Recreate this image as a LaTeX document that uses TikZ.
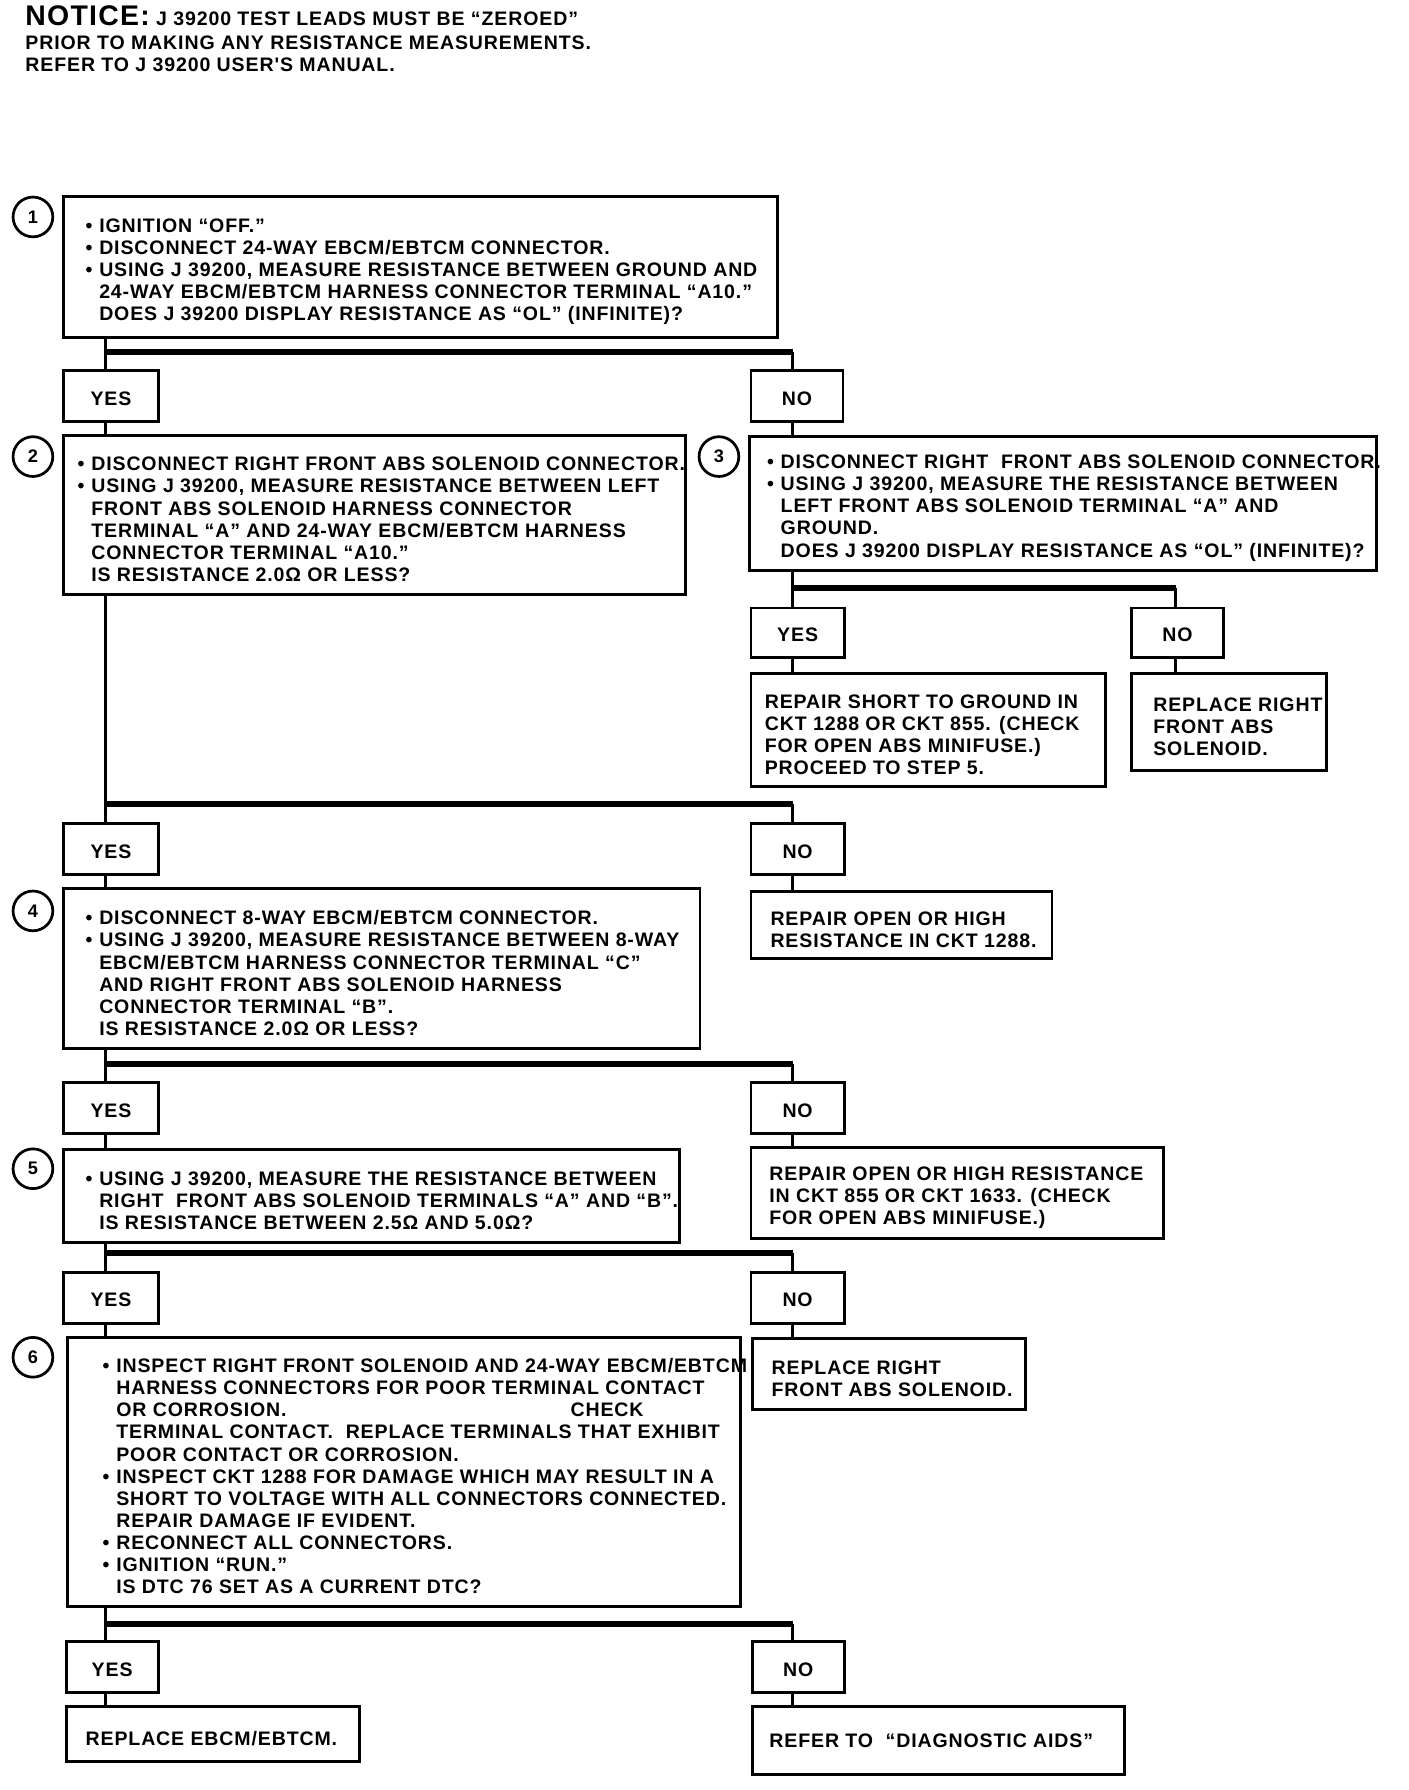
\documentclass[tikz,border=0pt]{standalone}
\usepackage{fontspec}
\newfontfamily\bxf{Liberation Sans}[LetterSpace=4.5]
\newcommand\fs{\bxf\bfseries\fontsize{8.6}{9.75}\selectfont}
\newcommand\bl{\makebox[6pt][l]{•}}
\newcommand\ind{\hspace*{6pt}}
\newcommand\yn[1]{\raisebox{-1pt}[\height][\depth]{#1}}
\begin{document}
\begin{tikzpicture}[x=0.5pt,y=-0.5pt,
  bx/.style n args={2}{draw, line width=1.25pt, anchor=north west, inner sep=0pt,
     minimum width=#1*0.5pt, minimum height=#2*0.5pt, font=\fs},
  txt/.style={anchor=west, align=left, inner sep=0pt, font=\fs, yshift=-2pt},
  circ/.style={draw, circle, line width=1.2pt, minimum size=17.5pt, inner sep=0pt, font=\bxf\bfseries\fontsize{8}{9}\selectfont},
  vl/.style={line width=1.5pt},
  hl/.style={line width=2.7pt}]
\fill[white] (0,0) rectangle (1240,1576);
\useasboundingbox (0,0) rectangle (1240,1576);

% notice
\node[anchor=north west, align=left, inner sep=0pt, font=\fs] (notice) at (22,5)
 {{\fontsize{12.5}{12}\selectfont NOTICE:} J 39200 TEST LEADS MUST BE “ZEROED”\\[0.5pt]
  PRIOR TO MAKING ANY RESISTANCE MEASUREMENTS.\\
  REFER TO J 39200 USER'S MANUAL.};

% column coordinates
\coordinate (colL) at (93,0);
\coordinate (colR) at (698,0);
\coordinate (colR2) at (1035,0);
\coordinate (j1) at (0,310);
\coordinate (j3) at (0,518);
\coordinate (j2) at (0,708);
\coordinate (j4) at (0,937);
\coordinate (j5) at (0,1103);
\coordinate (j6) at (0,1430);

% step circles
\node[circ] (c1) at (29,191) {1};
\node[circ] (c2) at (29,402) {2};
\node[circ] (c3) at (633,402) {3};
\node[circ] (c4) at (29,802) {4};
\node[circ] (c5) at (29,1029) {5};
\node[circ] (c6) at (29,1195) {6};

% step 1
\node[bx={628}{124}] (b1) at (55,172) {};
\node[txt] (t1) at ([xshift=10pt]b1.west)
 {\bl IGNITION “OFF.”\\
  \bl DISCONNECT 24-WAY EBCM/EBTCM CONNECTOR.\\
  \bl USING J 39200, MEASURE RESISTANCE BETWEEN GROUND AND\\
  \ind 24-WAY EBCM/EBTCM HARNESS CONNECTOR TERMINAL “A10.”\\
  \ind DOES J 39200 DISPLAY RESISTANCE AS “OL” (INFINITE)?};
\node[bx={83}{45}] (y1) at (55,325) {\yn{YES}};
\node[bx={81}{45}] (n1) at (660,325) {\yn{NO}};

% step 2
\node[bx={547}{140}] (b2) at (55,382) {};
\node[txt] (t2) at ([xshift=6.5pt]b2.west)
 {\bl DISCONNECT RIGHT FRONT ABS SOLENOID CONNECTOR.\\
  \bl USING J 39200, MEASURE RESISTANCE BETWEEN LEFT\\
  \ind FRONT ABS SOLENOID HARNESS CONNECTOR\\
  \ind TERMINAL “A” AND 24-WAY EBCM/EBTCM HARNESS\\
  \ind CONNECTOR TERMINAL “A10.”\\
  \ind IS RESISTANCE 2.0Ω OR LESS?};

% step 3
\node[bx={552}{118}] (b3) at (659,383) {};
\node[txt] (t3) at ([xshift=8pt]b3.west)
 {\bl DISCONNECT RIGHT\ \ FRONT ABS SOLENOID CONNECTOR.\\
  \bl USING J 39200, MEASURE THE RESISTANCE BETWEEN\\
  \ind LEFT FRONT ABS SOLENOID TERMINAL “A” AND\\
  \ind GROUND.\\
  \ind DOES J 39200 DISPLAY RESISTANCE AS “OL” (INFINITE)?};
\node[bx={82}{44}] (y3) at (660,534) {\yn{YES}};
\node[bx={81}{44}] (n3) at (995,534) {\yn{NO}};
\node[bx={312}{99}] (r3y) at (660,592) {};
\node[txt] (tr3y) at ([xshift=6.5pt]r3y.west)
 {REPAIR SHORT TO GROUND IN\\
  CKT 1288 OR CKT 855. (CHECK\\
  FOR OPEN ABS MINIFUSE.)\\
  PROCEED TO STEP 5.};
\node[bx={172}{85}] (r3n) at (995,592) {};
\node[txt] (tr3n) at ([xshift=10pt]r3n.west)
 {REPLACE RIGHT\\ FRONT ABS\\ SOLENOID.};

% after step 2
\node[bx={83}{45}] (y2) at (55,724) {\yn{YES}};
\node[bx={82}{45}] (n2) at (660,724) {\yn{NO}};
\node[bx={265}{59}] (r2n) at (660,784) {};
\node[txt] (tr2n) at ([xshift=9pt]r2n.west)
 {REPAIR OPEN OR HIGH\\ RESISTANCE IN CKT 1288.};

% step 4
\node[bx={560}{141}] (b4) at (55,781) {};
\node[txt] (t4) at ([xshift=10pt]b4.west)
 {\bl DISCONNECT 8-WAY EBCM/EBTCM CONNECTOR.\\
  \bl USING J 39200, MEASURE RESISTANCE BETWEEN 8-WAY\\
  \ind EBCM/EBTCM HARNESS CONNECTOR TERMINAL “C”\\
  \ind AND RIGHT FRONT ABS SOLENOID HARNESS\\
  \ind CONNECTOR TERMINAL “B”.\\
  \ind IS RESISTANCE 2.0Ω OR LESS?};
\node[bx={83}{45}] (y4) at (55,952) {\yn{YES}};
\node[bx={82}{45}] (n4) at (660,952) {\yn{NO}};

% step 5
\node[bx={542}{82}] (b5) at (55,1011) {};
\node[txt] (t5) at ([xshift=10pt]b5.west)
 {\bl USING J 39200, MEASURE THE RESISTANCE BETWEEN\\
  \ind RIGHT\ \ FRONT ABS SOLENOID TERMINALS “A” AND “B”.\\
  \ind IS RESISTANCE BETWEEN 2.5Ω AND 5.0Ω?};
\node[bx={363}{80}] (r4n) at (660,1009) {};
\node[txt] (tr4n) at ([xshift=8.5pt]r4n.west)
 {REPAIR OPEN OR HIGH RESISTANCE\\
  IN CKT 855 OR CKT 1633. (CHECK\\
  FOR OPEN ABS MINIFUSE.)};
\node[bx={83}{45}] (y5) at (55,1119) {\yn{YES}};
\node[bx={82}{45}] (n5) at (660,1119) {\yn{NO}};

% step 6
\node[bx={593}{237}] (b6) at (58,1176) {};
\node[txt] (t6) at ([xshift=16pt]b6.west)
 {\bl INSPECT RIGHT FRONT SOLENOID AND 24-WAY EBCM/EBTCM\\
  \ind HARNESS CONNECTORS FOR POOR TERMINAL CONTACT\\
  \ind \makebox[200pt][l]{OR CORROSION.}CHECK\\
  \ind TERMINAL CONTACT.\ \ REPLACE TERMINALS THAT EXHIBIT\\
  \ind POOR CONTACT OR CORROSION.\\
  \bl INSPECT CKT 1288 FOR DAMAGE WHICH MAY RESULT IN A\\
  \ind SHORT TO VOLTAGE WITH ALL CONNECTORS CONNECTED.\\
  \ind REPAIR DAMAGE IF EVIDENT.\\
  \bl RECONNECT ALL CONNECTORS.\\
  \bl IGNITION “RUN.”\\
  \ind IS DTC 76 SET AS A CURRENT DTC?};
\node[bx={241}{63}] (r5n) at (661,1177) {};
\node[txt] (tr5n) at ([xshift=9pt]r5n.west)
 {REPLACE RIGHT\\ FRONT ABS SOLENOID.};
\node[bx={81}{45}] (y6) at (57,1444) {\yn{YES}};
\node[bx={81}{45}] (n6) at (661,1444) {\yn{NO}};
\node[bx={258}{49}] (r6y) at (57,1501) {};
\node[txt] (tr6y) at ([xshift=9pt]r6y.west) {REPLACE EBCM/EBTCM.};
\node[bx={328}{60}] (r6n) at (661,1501) {};
\node[txt, yshift=2pt] (tr6n) at ([xshift=8pt]r6n.west) {REFER TO\ \ “DIAGNOSTIC AIDS”};

% connectors step 1
\draw[vl] (b1.south -| colL) -- (y1.north -| colL);
\draw[hl] (j1 -| colL) -- (j1 -| colR);
\draw[vl] (j1 -| colR) -- (n1.north -| colR);
\draw[vl] (y1.south -| colL) -- (b2.north -| colL);
\draw[vl] (n1.south -| colR) -- (b3.north -| colR);
% step 3
\draw[vl] (b3.south -| colR) -- (y3.north -| colR);
\draw[hl] (j3 -| colR) -- (j3 -| colR2);
\draw[vl] (j3 -| colR2) -- (n3.north -| colR2);
\draw[vl] (y3.south -| colR) -- (r3y.north -| colR);
\draw[vl] (n3.south -| colR2) -- (r3n.north -| colR2);
% step 2
\draw[vl] (b2.south -| colL) -- (y2.north -| colL);
\draw[hl] (j2 -| colL) -- (j2 -| colR);
\draw[vl] (j2 -| colR) -- (n2.north -| colR);
\draw[vl] (y2.south -| colL) -- (b4.north -| colL);
\draw[vl] (n2.south -| colR) -- (r2n.north -| colR);
% step 4
\draw[vl] (b4.south -| colL) -- (y4.north -| colL);
\draw[hl] (j4 -| colL) -- (j4 -| colR);
\draw[vl] (j4 -| colR) -- (n4.north -| colR);
\draw[vl] (y4.south -| colL) -- (b5.north -| colL);
\draw[vl] (n4.south -| colR) -- (r4n.north -| colR);
% step 5
\draw[vl] (b5.south -| colL) -- (y5.north -| colL);
\draw[hl] (j5 -| colL) -- (j5 -| colR);
\draw[vl] (j5 -| colR) -- (n5.north -| colR);
\draw[vl] (y5.south -| colL) -- (b6.north -| colL);
\draw[vl] (n5.south -| colR) -- (r5n.north -| colR);
% step 6
\draw[vl] (b6.south -| colL) -- (y6.north -| colL);
\draw[hl] (j6 -| colL) -- (j6 -| colR);
\draw[vl] (j6 -| colR) -- (n6.north -| colR);
\draw[vl] (y6.south -| colL) -- (r6y.north -| colL);
\draw[vl] (n6.south -| colR) -- (r6n.north -| colR);
\end{tikzpicture}
\end{document}
